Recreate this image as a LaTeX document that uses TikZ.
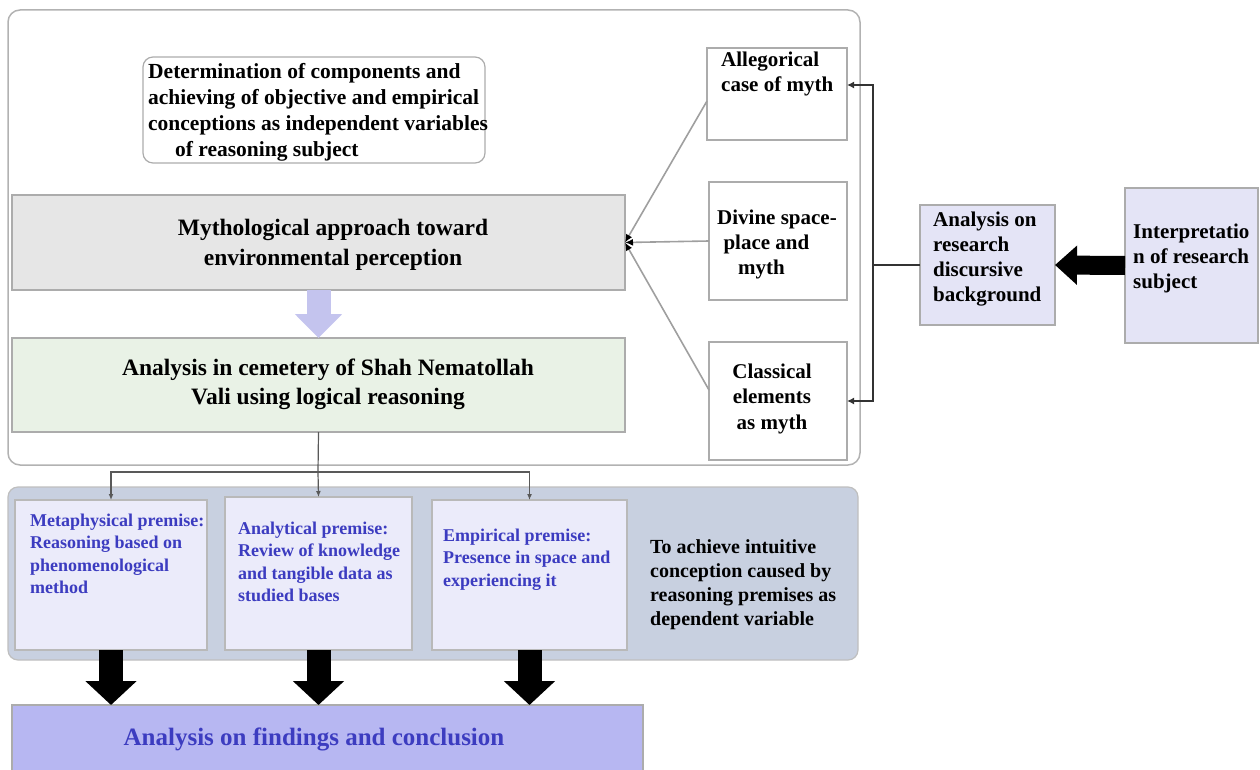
\documentclass[tikz,border=0pt]{standalone}
\usepackage{fontspec}
\setmainfont{Liberation Serif}
\usetikzlibrary{arrows.meta, positioning, calc}
\definecolor{mythgray}{HTML}{E6E6E6}
\definecolor{cemgreen}{HTML}{E9F2E6}
\definecolor{resblue}{HTML}{E4E4F6}
\definecolor{panelblue}{HTML}{C8D0E0}
\definecolor{premblue}{HTML}{EBEBFA}
\definecolor{findblue}{HTML}{B7B7F2}
\definecolor{arrowlav}{HTML}{C4C4EE}
\definecolor{textblue}{HTML}{3C3CC0}

\begin{document}
\begin{tikzpicture}[x=1pt, y=-1pt, >={Latex[length=6pt,width=5pt]},
    box/.style={draw=gray!65, line width=1.2pt, inner sep=0pt, outer sep=0pt},
    txt/.style={inner sep=0pt, align=left, anchor=base west, font=\fontsize{21}{25}\selectfont\bfseries},
    ctxt/.style={inner sep=0pt, align=center, anchor=base, font=\fontsize{23.5}{30}\selectfont\bfseries},
    btxt/.style={txt, text=textblue, font=\fontsize{18}{22.5}\selectfont\bfseries},
    link/.style={draw=gray!70!black, line width=1.2pt},
    bus/.style={draw=black!80, line width=2.6pt},
    fatarrow/.style={draw=black}]
    \useasboundingbox (0,0) rectangle (1260,770);

    % frames
    \node[box, draw=gray!60, line width=1.5pt, rounded corners=12pt, minimum width=852, minimum height=455] (outer) at (434,237.5) {};
    \node[box, draw=gray!50, fill=panelblue, rounded corners=10pt, minimum width=850, minimum height=173] (panel) at (433,573.5) {};

    % upper part (texts sit on the baseline of their last line)
    \node[box, rounded corners=10pt, minimum width=342, minimum height=106] (detbox) at (314,110) {};
    \node[txt, font=\fontsize{21.5}{26}\selectfont\bfseries] (dettext) at (148,157)
        {Determination of components and\\achieving of objective and empirical\\conceptions as independent variables\\\hspace*{1.25em}of reasoning subject};
    \node[box, fill=mythgray, minimum width=613, minimum height=95] (mythbox) at (318.5,242.5) {};
    \node[ctxt] (mythtext) at (333,265) {Mythological approach toward\\environmental perception};
    \node[box, fill=cemgreen, minimum width=613, minimum height=94] (cembox) at (318.5,385) {};
    \node[ctxt, font=\fontsize{23.5}{29}\selectfont\bfseries] (cemtext) at (328,404) {Analysis in cemetery of Shah Nematollah\\Vali using logical reasoning};
    \draw[draw=arrowlav, line width=24pt, -{Triangle[width=46pt,length=24pt]}] (mythbox.south) -- (cembox.north);

    % myth cases
    \node[box, minimum width=140, minimum height=92] (allebox) at (777,94) {};
    \node[txt] (alletext) at (721,92) {Allegorical\\case of myth};
    \node[box, minimum width=138, minimum height=118] (divbox) at (778,241) {};
    \node[txt] (divtext) at (717,274) {Divine space-\\\hspace*{0.3em}place and\\\hspace*{1em}myth};
    \node[box, minimum width=138, minimum height=118] (classbox) at (778,401) {};
    \node[ctxt, font=\fontsize{21}{25.5}\selectfont\bfseries] (classtext) at (772,429) {Classical\\elements\\as myth};
    \foreach \b/\s in {allebox/-7, divbox/0, classbox/11}
        \draw[link, draw=gray!75, line width=1.6pt, -{Latex[length=8pt,width=7pt,color=black]}] ([yshift=\s pt]\b.west) -- (mythbox.east);

    % research side
    \node[box, fill=resblue, minimum width=135, minimum height=120] (resbox) at (987.5,265) {};
    \node[txt] (restext) at (933,301) {Analysis on\\research\\discursive\\background};
    \node[box, fill=resblue, minimum width=133, minimum height=155] (intbox) at (1191.5,265.5) {};
    \node[txt] (inttext) at (1133,288) {Interpretatio\\n of research\\subject};
    \draw[fatarrow, line width=19pt, -{Triangle[width=38pt,length=22pt]}] (intbox.west) -- (resbox.east);
    \coordinate (bus) at (873,265);
    \draw[bus] (resbox.west) -- (bus);
    \draw[bus, -{Latex[length=7pt,width=7pt]}] (bus) |- ([yshift=9pt]allebox.east);
    \draw[bus, -{Latex[length=7pt,width=7pt]}] (bus) |- (classbox.east);

    % premises
    \node[box, draw=gray!55, fill=premblue, minimum width=192, minimum height=150] (metabox) at (111,575) {};
    \node[btxt] (metatext) at (30,593.5) {Metaphysical premise:\\Reasoning based on\\phenomenological\\method};
    \node[box, draw=gray!55, fill=premblue, minimum width=187, minimum height=153] (anabox) at (318.5,573.5) {};
    \node[btxt] (anatext) at (238,601.5) {Analytical premise:\\Review of knowledge\\and tangible data as\\studied bases};
    \node[box, draw=gray!55, fill=premblue, minimum width=195, minimum height=150] (empbox) at (529.5,575) {};
    \node[btxt] (emptext) at (443,586) {Empirical premise:\\Presence in space and\\experiencing it};
    \node[txt, font=\fontsize{20}{24}\selectfont\bfseries] (goaltext) at (650,625)
        {To achieve intuitive\\conception caused by\\reasoning premises as\\dependent variable};
    \coordinate (split) at (318,472);
    \draw[link] (cembox.south) -- (split);
    \draw[link, ->] (split) -- (anabox.north);
    \draw[link, ->] (split) -| (metabox.north);
    \draw[link, ->] (split) -| (empbox.north);

    % findings
    \node[box, fill=findblue, minimum width=631, minimum height=72] (findbox) at (327.5,741) {};
    \node[ctxt, text=textblue, font=\fontsize{25}{30}\selectfont\bfseries] (findtext) at (314,745) {Analysis on findings and conclusion};
    \foreach \b in {metabox, anabox, empbox}
        \draw[fatarrow, line width=24pt, -{Triangle[width=50pt,length=24pt]}] (\b.south) -- (\b.south |- findbox.north);
\end{tikzpicture}
\end{document}
